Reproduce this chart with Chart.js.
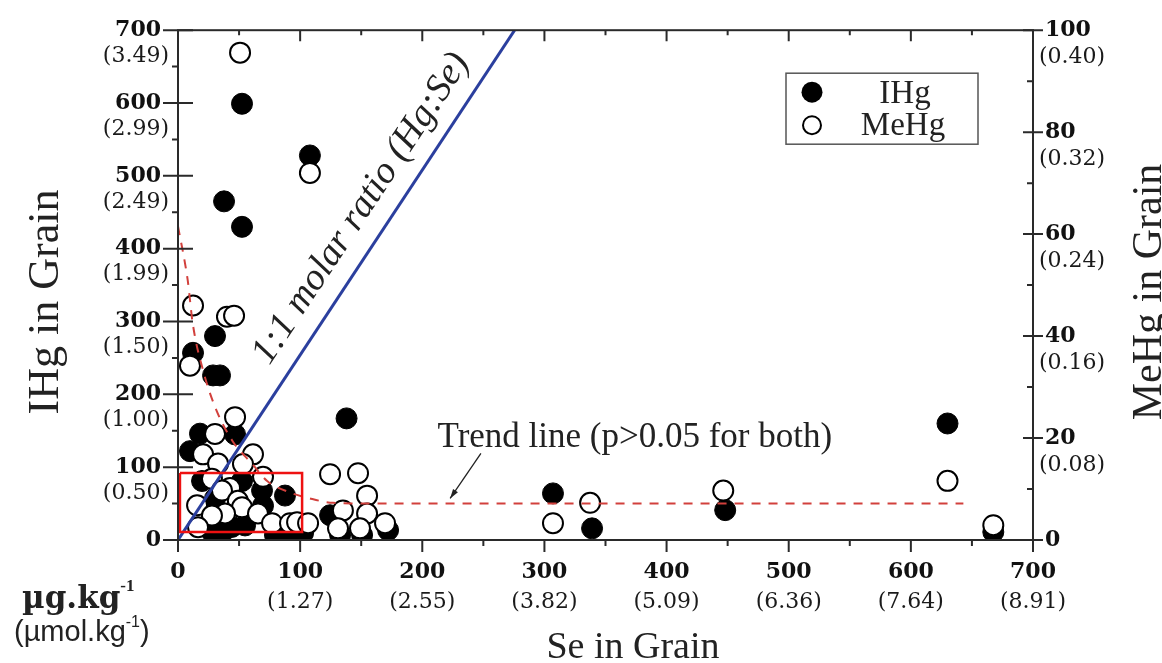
<!DOCTYPE html>
<html>
<head>
<meta charset="utf-8">
<script src="https://cdn.jsdelivr.net/npm/chart.js@4.4.1/dist/chart.umd.min.js"></script>
<style>
  html, body { margin: 0; padding: 0; background: #fff; }
</style>
</head>
<body>
<canvas id="myChart" width="1162" height="663"></canvas>
<script>
// Se in grain (ug/kg) and IHg (ug/kg, left axis)
var seIHg = [52.4, 108, 37.7, 52.4, 12.3, 30.3, 28.7, 34.4, 138, 18, 46.7, 9.8, 19.7, 52.4, 68.8, 87.6, 30.3, 69.6,
             44.2, 54.9, 36, 27.8, 79.4, 93.4, 102.4, 124.5, 132.7, 150.7, 172, 307, 339, 448, 630, 667.5];
var ihg   = [599, 528, 465, 430, 257, 280, 226, 226, 167, 146, 145, 122, 81, 81, 68, 61, 57, 47,
             18, 20, 9.5, 11, 7, 7, 9.5, 34, 7, 7, 13.5, 64, 16, 41, 160, 11];

// Se in grain and MeHg (ug/kg, right axis)
var seMeHg = [50.8, 108, 12.3, 40.1, 45.9, 9.8, 46.7, 30.3, 20.5, 32.8, 61.4, 53.2, 69.6, 27.8, 42.6, 36, 49,
              15.6, 52.4, 38.5, 27.8, 65.5, 16.4, 77, 91.7, 97.5, 106.5, 124.5, 147.4, 154.8, 135, 154.8, 131, 149, 169.5,
              307, 337.4, 446.4, 630, 667.5];
var mehg   = [95.6, 72, 46, 43.8, 44, 34.2, 24.1, 20.8, 16.8, 15, 16.8, 14.9, 12.4, 12, 10.2, 9.7, 7.7,
              6.8, 6.4, 5.2, 4.8, 5.2, 2.5, 3.3, 3.3, 3.5, 3.3, 12.9, 13.1, 8.7, 5.8, 5.2, 2.3, 2.3, 3.3,
              3.3, 7.3, 9.7, 11.6, 2.9];

// 1:1 molar ratio line (Hg:Se)
var molarSe = [0, 275.6];
var molarHg = [0, 700];

// trend line
var trendSe = [0, 8, 12, 21, 32, 45, 61, 73, 92, 108, 127, 160, 643];
var trendHg = [431, 356, 298, 230, 176, 135, 104, 81, 65, 57, 51, 50, 50];

// red highlight box
var boxSe = [1.6, 101.6, 101.6, 1.6, 1.6];
var boxHg = [92, 92, 11, 11, 92];

var seMol   = ["", "(1.27)", "(2.55)", "(3.82)", "(5.09)", "(6.36)", "(7.64)", "(8.91)"];
var ihgMol  = ["", "(0.50)", "(1.00)", "(1.50)", "(1.99)", "(2.49)", "(2.99)", "(3.49)"];
var mehgMol = ["", "(0.08)", "(0.16)", "(0.24)", "(0.32)", "(0.40)"];

function pts(xs, ys) {
  var out = [];
  for (var i = 0; i < xs.length; i++) out.push({x: xs[i], y: ys[i]});
  return out;
}

var serif = "'Liberation Serif', 'Times New Roman', serif";
var numFont = "'DejaVu Serif', serif";
var sans = "'Liberation Sans', sans-serif";

function superText(ctx, parts, x, y) {
  // parts: [text, font, dy]
  for (var i = 0; i < parts.length; i++) {
    ctx.font = parts[i][1];
    ctx.fillText(parts[i][0], x, y + parts[i][2]);
    x += ctx.measureText(parts[i][0]).width;
  }
}

var decor = {
  id: "decor",
  afterDatasetsDraw: function(chart) {
    var ctx = chart.ctx, a = chart.chartArea;
    var xs = chart.scales.x, ys = chart.scales.y, y2 = chart.scales.y2;
    ctx.save();
    ctx.strokeStyle = "#2a2a2a";
    ctx.fillStyle = "#1a1a1a";
    ctx.lineWidth = 2;
    // frame
    ctx.strokeRect(a.left, a.top, a.right - a.left, a.bottom - a.top);
    ctx.beginPath();
    var v, p;
    for (v = 0; v <= 700; v += 50) {
      var major = v % 100 === 0;
      p = xs.getPixelForValue(v);
      ctx.moveTo(p, a.bottom); ctx.lineTo(p, a.bottom + (major ? 12 : 6));
      ctx.moveTo(p, a.top); ctx.lineTo(p, a.top + (major ? 11 : 5));
      p = ys.getPixelForValue(v);
      if (major) { ctx.moveTo(a.left - 15, p); ctx.lineTo(a.left + 15, p); }
      else { ctx.moveTo(a.left - 6, p); ctx.lineTo(a.left, p); }
    }
    for (v = 0; v <= 100; v += 10) {
      p = y2.getPixelForValue(v);
      if (v % 20 === 0) { ctx.moveTo(a.right - 10, p); ctx.lineTo(a.right + 10, p); }
      else { ctx.moveTo(a.right - 6, p); ctx.lineTo(a.right, p); }
    }
    ctx.stroke();

    // bracketed umol/kg labels
    ctx.font = "22px " + numFont;
    ctx.textBaseline = "middle";
    ctx.textAlign = "right";
    for (var i = 1; i < ihgMol.length; i++) {
      ctx.fillText(ihgMol[i], a.left - 9, ys.getPixelForValue(i * 100) + 26);
    }
    ctx.textAlign = "center";
    for (i = 1; i < seMol.length; i++) {
      ctx.fillText(seMol[i], xs.getPixelForValue(i * 100), a.bottom + 62);
    }
    ctx.textAlign = "left";
    for (i = 1; i < mehgMol.length; i++) {
      ctx.fillText(mehgMol[i], a.right + 6, y2.getPixelForValue(i * 20) + 27);
    }

    // axis titles
    ctx.fillStyle = "#222";
    ctx.textAlign = "center";
    ctx.font = "38px " + serif;
    ctx.fillText("Se in Grain", 633, 648);
    ctx.save();
    ctx.translate(46, 302); ctx.rotate(-Math.PI / 2);
    ctx.font = "44px " + serif;
    ctx.fillText("IHg in Grain", 0, 0);
    ctx.restore();
    ctx.save();
    ctx.translate(1150, 292); ctx.rotate(-Math.PI / 2);
    ctx.font = "42px " + serif;
    ctx.fillText("MeHg in Grain", 0, 0);
    ctx.restore();

    // units
    ctx.textAlign = "left";
    ctx.textBaseline = "alphabetic";
    superText(ctx, [["\u00b5g.kg", "bold 31px " + numFont, 0], ["-1", "bold 17px " + serif, -17]], 22, 608);
    superText(ctx, [["(\u00b5mol.kg", "29px " + sans, 0], ["-1", "16px " + sans, -14],
                    [")", "29px " + sans, 0]], 14, 641);

    // 1:1 molar ratio label along the blue line
    var p0x = xs.getPixelForValue(molarSe[0]), p0y = ys.getPixelForValue(molarHg[0]);
    var p1x = xs.getPixelForValue(molarSe[1]), p1y = ys.getPixelForValue(molarHg[1]);
    var ang = Math.atan2(p1y - p0y, p1x - p0x);
    ctx.save();
    ctx.translate(xs.getPixelForValue(150), ys.getPixelForValue(455));
    ctx.rotate(ang);
    ctx.textAlign = "center"; ctx.textBaseline = "middle";
    ctx.font = "italic 38px " + serif;
    ctx.fillText("1:1 molar ratio (Hg:Se)", 0, 0);
    ctx.restore();

    // trend line label and arrow
    ctx.textAlign = "center"; ctx.textBaseline = "middle";
    ctx.font = "35px " + serif;
    ctx.fillText("Trend line (p>0.05 for both)", xs.getPixelForValue(374), ys.getPixelForValue(140));
    var ax0 = xs.getPixelForValue(248), ay0 = ys.getPixelForValue(119);
    var ax1 = xs.getPixelForValue(222.8), ay1 = ys.getPixelForValue(57);
    ctx.strokeStyle = "#222"; ctx.lineWidth = 1.3;
    ctx.beginPath(); ctx.moveTo(ax0, ay0); ctx.lineTo(ax1, ay1); ctx.stroke();
    var aa = Math.atan2(ay1 - ay0, ax1 - ax0);
    ctx.beginPath();
    ctx.moveTo(ax1, ay1);
    ctx.lineTo(ax1 - 10 * Math.cos(aa - 0.3), ay1 - 10 * Math.sin(aa - 0.3));
    ctx.lineTo(ax1 - 10 * Math.cos(aa + 0.3), ay1 - 10 * Math.sin(aa + 0.3));
    ctx.closePath(); ctx.fillStyle = "#222"; ctx.fill();

    // legend box
    var lx = a.right - 247, ly = a.top + 43;
    ctx.strokeStyle = "#555"; ctx.lineWidth = 1.5;
    ctx.strokeRect(lx, ly, 192, 71);
    ctx.beginPath(); ctx.arc(lx + 26, ly + 19, 10.5, 0, Math.PI * 2);
    ctx.fillStyle = "#000"; ctx.fill();
    ctx.beginPath(); ctx.arc(lx + 26, ly + 52, 9, 0, Math.PI * 2);
    ctx.fillStyle = "#fff"; ctx.fill();
    ctx.strokeStyle = "#000"; ctx.lineWidth = 2; ctx.stroke();
    ctx.fillStyle = "#222";
    ctx.font = "33px " + serif;
    ctx.fillText(chart.data.datasets[0].label, lx + 119, ly + 21);
    ctx.fillText(chart.data.datasets[1].label, lx + 117, ly + 53);
    ctx.restore();
  }
};

new Chart("myChart", {
  type: "scatter",
  data: {
    datasets: [{
      label: "IHg",
      data: pts(seIHg, ihg),
      yAxisID: "y",
      pointRadius: 10.5,
      backgroundColor: "#000",
      borderColor: "#000",
      borderWidth: 1,
      order: 3
    }, {
      label: "MeHg",
      data: pts(seMeHg, mehg),
      yAxisID: "y2",
      pointRadius: 10,
      backgroundColor: "#fff",
      borderColor: "#000",
      borderWidth: 2,
      order: 2
    }, {
      type: "line",
      label: "1:1 molar ratio",
      data: pts(molarSe, molarHg),
      yAxisID: "y",
      borderColor: "#2b3f9e",
      borderWidth: 3,
      pointRadius: 0,
      order: 1
    }, {
      type: "line",
      label: "Trend line",
      data: pts(trendSe, trendHg),
      yAxisID: "y",
      borderColor: "#d2403c",
      borderWidth: 2,
      borderDash: [9, 8],
      cubicInterpolationMode: "monotone",
      pointRadius: 0,
      order: 1
    }, {
      type: "line",
      label: "box",
      data: pts(boxSe, boxHg),
      yAxisID: "y",
      borderColor: "#ee1111",
      borderWidth: 2.5,
      pointRadius: 0,
      order: 0
    }]
  },
  options: {
    responsive: false,
    animation: false,
    events: [],
    layout: { padding: { top: 22, left: 0, right: 0, bottom: 0 } },
    plugins: { legend: { display: false }, tooltip: { enabled: false } },
    scales: {
      x: {
        type: "linear", position: "bottom", min: 0, max: 700,
        ticks: { stepSize: 100, padding: 19, color: "#111", maxRotation: 0,
                 font: { family: numFont, weight: "bold", size: 22 } },
        grid: { display: false, drawTicks: false },
        border: { display: false },
        afterFit: function(s) { s.height = 123; }
      },
      y: {
        type: "linear", position: "left", min: 0, max: 700,
        ticks: { stepSize: 100, padding: 17, color: "#111",
                 font: { family: numFont, weight: "bold", size: 22 } },
        grid: { display: false, drawTicks: false },
        border: { display: false },
        afterFit: function(s) { s.width = 178; }
      },
      y2: {
        type: "linear", position: "right", min: 0, max: 100,
        ticks: { stepSize: 20, padding: 12, color: "#111",
                 font: { family: numFont, weight: "bold", size: 22 } },
        grid: { display: false, drawTicks: false },
        border: { display: false },
        afterFit: function(s) { s.width = 129; }
      }
    }
  },
  plugins: [decor]
});
</script>
</body>
</html>
